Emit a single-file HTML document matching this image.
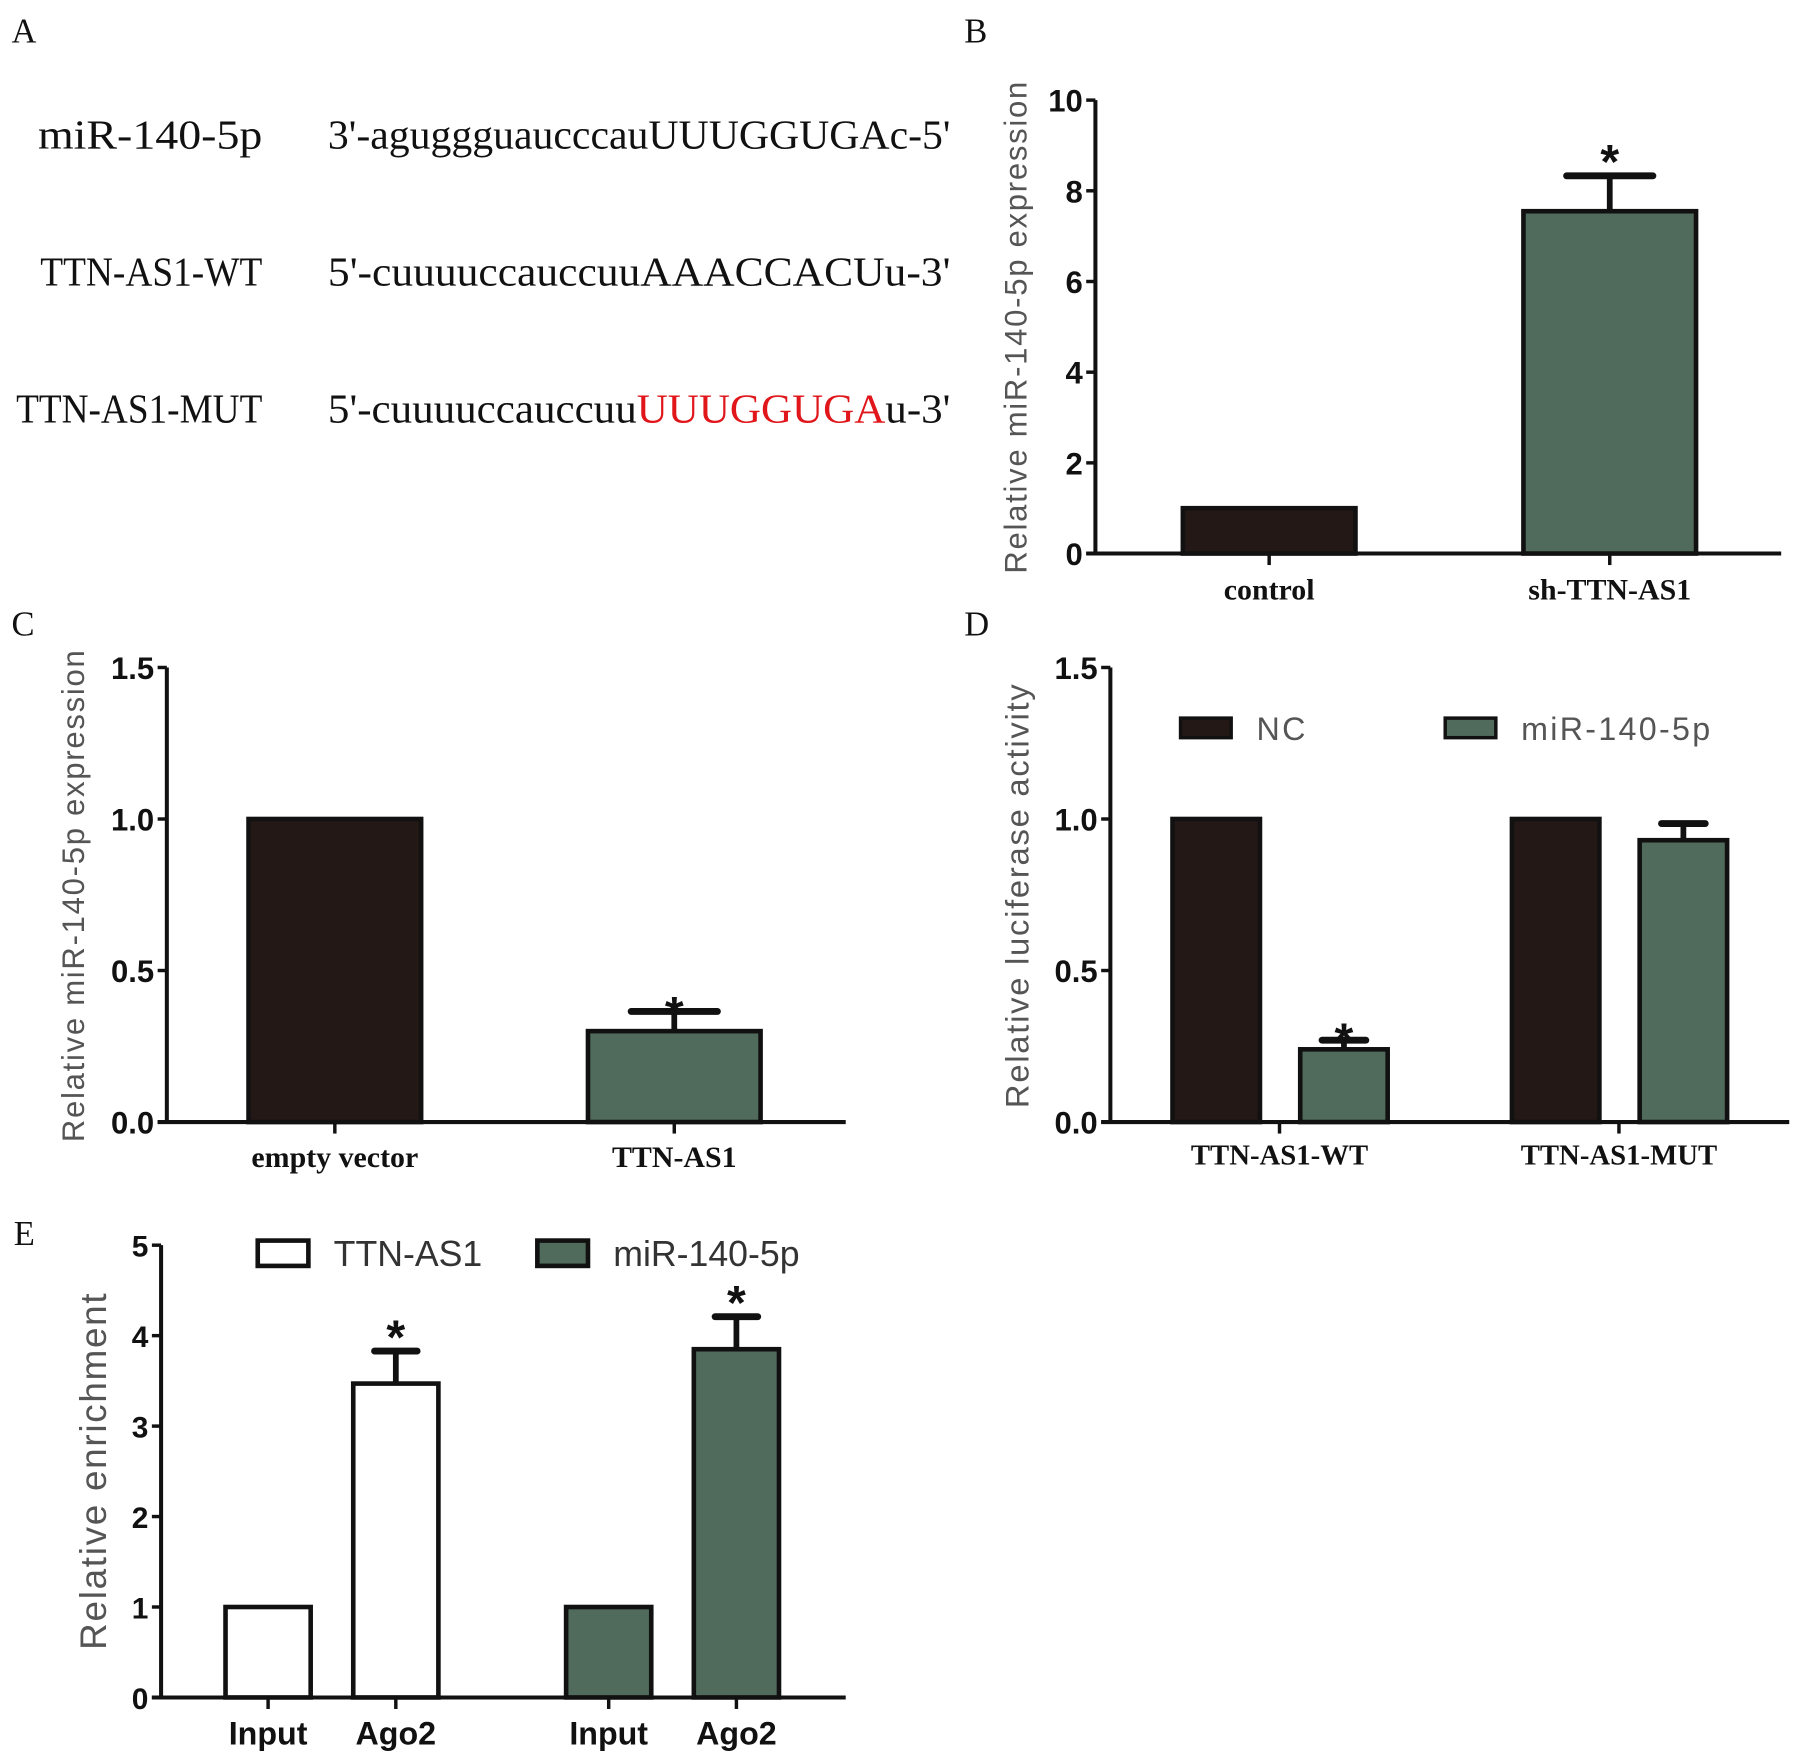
<!DOCTYPE html>
<html><head><meta charset="utf-8"><style>
html,body{margin:0;padding:0;background:#fff}
svg{display:block}
</style></head><body>
<svg id="fig" width="1795" height="1755" viewBox="0 0 1560 1525" preserveAspectRatio="none" xmlns="http://www.w3.org/2000/svg">
<g font-family="'Liberation Serif', serif" font-size="36" fill="#111">
  <text x="10" y="37" font-family="'Liberation Serif', serif" font-size="30">A</text>
  <text x="33" y="129" textLength="195" lengthAdjust="spacingAndGlyphs">miR-140-5p</text>
  <text x="285" y="129" textLength="541" lengthAdjust="spacingAndGlyphs">3'-aguggguaucccauUUUGGUGAc-5'</text>
  <text x="35" y="248" textLength="193" lengthAdjust="spacingAndGlyphs">TTN-AS1-WT</text>
  <text x="285" y="248" textLength="541" lengthAdjust="spacingAndGlyphs">5'-cuuuuccauccuuAAACCACUu-3'</text>
  <text x="14" y="367" textLength="214" lengthAdjust="spacingAndGlyphs">TTN-AS1-MUT</text>
  <text x="285" y="367" textLength="541" lengthAdjust="spacingAndGlyphs">5'-cuuuuccauccuu<tspan fill="#e0161b">UUUGGUGA</tspan>u-3'</text>
</g>
<g id="charts"></g>
</svg>
<script>
// Panel B data
const bCats = ["control", "sh-TTN-AS1"];
const bVals = [1.0, 7.55];
const bErr = [0, 0.78];
const bTicks = ["0","2","4","6","8","10"];
// Panel C data
const cCats = ["empty vector", "TTN-AS1"];
const cVals = [1.0, 0.30];
const cErr = [0, 0.065];
const cTicks = ["0.0","0.5","1.0","1.5"];
// Panel D data
const dGroups = ["TTN-AS1-WT", "TTN-AS1-MUT"];
const dNC = [1.0, 1.0];
const dMiR = [0.24, 0.93];
const dMiRErr = [0.03, 0.055];
const dTicks = ["0.0","0.5","1.0","1.5"];
// Panel E data
const eCats = ["Input", "Ago2", "Input", "Ago2"];
const eVals = [1.0, 3.47, 1.0, 3.85];
const eErr = [0, 0.36, 0, 0.36];
const eTicks = ["0","1","2","3","4","5"];

const NS = "http://www.w3.org/2000/svg";
const root = document.getElementById("charts");
const DARK = "#231816", GREEN = "#506a5b";
function el(tag, attrs, parent, text) {
  const e = document.createElementNS(NS, tag);
  for (const k in attrs) e.setAttribute(k, attrs[k]);
  if (text !== undefined) e.textContent = text;
  (parent || root).appendChild(e);
  return e;
}
function axis(g, x0, x1, yBottom, yTop, vmax, ticks, tickFont, tickSize) {
  const yS = v => yBottom - (v / vmax) * (yBottom - yTop);
  const ya = el("line", {x1:x0, y1:yTop, x2:x0, y2:yBottom, stroke:"#111", "stroke-width":3.5}, g);
  
  
  const xa = el("line", {x1:x0-8, y1:yBottom, x2:x1, y2:yBottom, stroke:"#111", "stroke-width":3.5}, g);
  
  
  ticks.forEach(t => {
    const v = parseFloat(t), y = yS(v);
    el("line", {x1:x0-8, y1:y, x2:x0, y2:y, stroke:"#111", "stroke-width":3}, g);
    const tl = el("text", {x:x0-11, y:y+10, "text-anchor":"end", "font-family":tickFont, "font-weight":"bold", "font-size":tickSize, fill:"#111"}, g, t);
    
    
  });
  return yS;
}
function bar(g, xl, w, v, yS, fill, err, name) {
  const y0 = yS(0), y = yS(v);
  if (err > 0) {
    const ye = yS(v + err), cx = xl + w / 2, cw = w * 0.5;
    el("line", {x1:cx, y1:y, x2:cx, y2:ye, stroke:"#111", "stroke-width":5}, g);
    const cap = el("line", {x1:cx-cw/2, y1:ye, x2:cx+cw/2, y2:ye, stroke:"#111", "stroke-width":6, "stroke-linecap":"round"}, g);
    
    
  }
  const r = el("rect", {x:xl, y:y, width:w, height:y0-y, fill:fill, stroke:"#111", "stroke-width":4}, g);
  
  
  return r;
}
function star(g, x, y, name) {
  const s = el("text", {x:x, y:y, "text-anchor":"middle", "font-family":"'Liberation Sans', sans-serif", "font-weight":"bold", "font-size":42, fill:"#111"}, g, "*");
  
  
}
function ytitle(g, x, y, txt, size, color) {
  const t = el("text", {x:0, y:0, transform:`translate(${x},${y}) rotate(-90)`, "text-anchor":"middle", "font-family":"'Liberation Sans', sans-serif", "font-size":size, fill:color, "letter-spacing":"1.5"}, g, txt);
  
  
}
function plabel(x, y, txt) {
  const t = el("text", {x:x, y:y, "font-family":"'Liberation Serif', serif", "font-size":30, fill:"#111"}, root, txt);
  
  
}
function xlabel(g, x, y, txt, font, size) {
  const t = el("text", {x:x, y:y, "text-anchor":"middle", "font-family":font, "font-weight":"bold", "font-size":size, fill:"#111"}, g, txt);
  
  
}
const SERIF = "'Liberation Serif', serif", SANS = "'Liberation Sans', sans-serif";

// Panel B
plabel(838, 37, "B");
const gB = el("g", {});  
const yB = axis(gB, 952, 1548, 481, 87, 10, bTicks, SANS, 27);
const bCenters = [1103, 1399], bW = 150;
bCats.forEach((c, i) => {
  bar(gB, bCenters[i] - bW/2, bW, bVals[i], yB, i ? GREEN : DARK, bErr[i], c);
  el("line", {x1:bCenters[i], y1:481, x2:bCenters[i], y2:491, stroke:"#111", "stroke-width":3}, gB);
  xlabel(gB, bCenters[i], 521, c, SERIF, 26);
  if (bErr[i] > 0) star(gB, bCenters[i], yB(bVals[i] + bErr[i]) + 2, c);
});
ytitle(gB, 892, 284, "Relative miR-140-5p expression", 27, "#555");

// Panel C
plabel(10, 552, "C");
const gC = el("g", {});  
const yC = axis(gC, 145, 735, 975, 580, 1.5, cTicks, SANS, 27);
const cCenters = [291, 586], cW = 150;
cCats.forEach((c, i) => {
  bar(gC, cCenters[i] - cW/2, cW, cVals[i], yC, i ? GREEN : DARK, cErr[i], c);
  el("line", {x1:cCenters[i], y1:975, x2:cCenters[i], y2:985, stroke:"#111", "stroke-width":3}, gC);
  xlabel(gC, cCenters[i], 1014, c, SERIF, 26);
  if (cErr[i] > 0) star(gC, cCenters[i], yC(cVals[i] + cErr[i]) + 16, c);
});
ytitle(gC, 73, 778, "Relative miR-140-5p expression", 27, "#555");

// Panel D
plabel(838, 552, "D");
const gD = el("g", {});  
const yD = axis(gD, 965, 1555, 975, 580, 1.5, dTicks, SANS, 27);
const dCenters = [1112, 1407], dW = 76;
dGroups.forEach((c, i) => {
  bar(gD, dCenters[i] - 93, dW, dNC[i], yD, DARK, 0, "nc-" + c);
  bar(gD, dCenters[i] + 18, dW, dMiR[i], yD, GREEN, dMiRErr[i], "mir-" + c);
  el("line", {x1:dCenters[i], y1:975, x2:dCenters[i], y2:985, stroke:"#111", "stroke-width":3}, gD);
  xlabel(gD, dCenters[i], 1012, c, SERIF, 25);
  if (i === 0) star(gD, dCenters[i] + 18 + dW/2, yD(dMiR[i] + dMiRErr[i]) + 14, c);
});
const lgD = el("g", {}, gD);  
el("rect", {x:1026, y:624, width:44, height:17, fill:DARK, stroke:"#111", "stroke-width":3}, lgD);
const ln1 = el("text", {x:1092, y:643, "font-family":SANS, "font-size":28, fill:"#555", "letter-spacing":"2"}, lgD, "NC");
 
el("rect", {x:1256, y:624, width:44, height:17, fill:GREEN, stroke:"#111", "stroke-width":3}, lgD);
const ln2 = el("text", {x:1322, y:643, "font-family":SANS, "font-size":28, fill:"#555", "letter-spacing":"2"}, lgD, "miR-140-5p");
 
ytitle(gD, 894, 778, "Relative luciferase activity", 28.5, "#555");

// Panel E
plabel(12, 1082, "E");
const gE = el("g", {});  
const yE = axis(gE, 140, 735, 1475, 1082, 5, eTicks, SANS, 26);
const eCenters = [233, 344, 529, 640], eW = 74;
eCats.forEach((c, i) => {
  bar(gE, eCenters[i] - eW/2, eW, eVals[i], yE, i < 2 ? "#fff" : GREEN, eErr[i], c + "-" + i);
  el("line", {x1:eCenters[i], y1:1475, x2:eCenters[i], y2:1485, stroke:"#111", "stroke-width":3}, gE);
  xlabel(gE, eCenters[i], 1516, c, SANS, 28);
  if (eErr[i] > 0) star(gE, eCenters[i], yE(eVals[i] + eErr[i]) + 2, c + "-" + i);
});
const lgE = el("g", {}, gE);  
el("rect", {x:224, y:1078, width:44, height:22, fill:"#fff", stroke:"#111", "stroke-width":4}, lgE);
const le1 = el("text", {x:290, y:1100, "font-family":SANS, "font-size":31, fill:"#333"}, lgE, "TTN-AS1");
 
el("rect", {x:467, y:1078, width:44, height:22, fill:GREEN, stroke:"#111", "stroke-width":4}, lgE);
const le2 = el("text", {x:533, y:1100, "font-family":SANS, "font-size":31, fill:"#333"}, lgE, "miR-140-5p");
 
ytitle(gE, 92, 1278, "Relative enrichment", 32, "#555");
</script>
</body></html>
